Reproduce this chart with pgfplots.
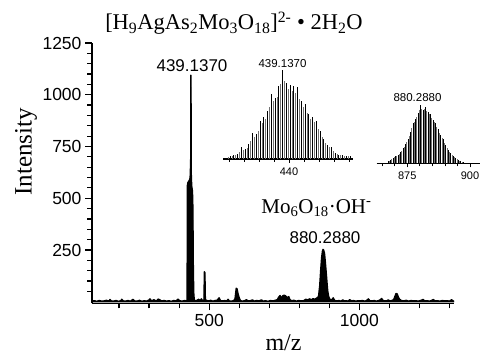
\documentclass[border=0pt]{standalone}
\usepackage{fontspec}
\setmainfont{Liberation Serif}
\newfontfamily\arial{Liberation Sans}
\usepackage{pgfplots}
\pgfplotsset{compat=1.18}
\usepackage{pgfplotstable}

\pgfplotstableread{
x y
110 3
118 5
126 2
134 6
142 3
150 4
158 7
166 3
170 11
174 4
182 3
190 6
198 2
206 5
209 12
214 4
222 3
230 6
238 2
246 12
252 4
260 3
268 7
276 2
284 5
292 3
300 9
303 14
308 4
316 10
324 3
330 13
336 9
342 4
350 6
358 3
366 5
374 2
382 6
390 4
396 13
402 5
410 3
418 6
424 4
426.5 8
427.2 560
429 575
431 580
433 585
435 590
436.5 600
437.5 640
438.6 700
439.137 1095
439.8 1000
440.5 620
442 560
444 540
445.5 500
446.5 350
447.5 150
449 40
450.5 10
454 4
458 6
465 12
470 5
474 14
478 6
482.5 8
484 145
486 140
487.5 10
492 6
498 4
505 7
512 3
520 6
527 8
533 19
538 5
545 4
552 6
558 3
563 12
567 4
575 3
582 6
586 15
588 40
590 65
593 62
596 40
600 20
604 6
610 3
618 5
624 10
630 4
637 5
644 9
650 3
658 6
666 4
674 9
680 3
688 5
696 2
704 6
712 4
720 7
727 10
731 22
736 30
740 18
745 29
750 32
755 28
760 20
765 25
769 10
775 5
782 7
790 3
798 6
806 4
814 5
822 12
828 9
834 14
840 10
846 15
852 12
858 18
864 25
868 80
871 150
874 210
877 245
879 253
881 250
884 235
887 190
889 155
891 120
893 82
895 50
898 25
902 12
907 8
913 19
918 6
925 4
932 6
938 3
945 9
950 4
956 5
962 3
968 10
974 4
980 6
988 3
995 5
1002 4
1010 6
1018 3
1024 6
1030 14
1035 5
1042 4
1050 6
1056 3
1062 5
1068 8
1074 16
1079 6
1086 4
1092 5
1096 9
1102 4
1108 6
1114 10
1118 25
1122 40
1126 38
1130 22
1134 12
1140 6
1148 4
1156 7
1164 3
1172 6
1180 4
1188 5
1196 3
1204 6
1212 11
1218 4
1226 5
1234 3
1240 6
1246 11
1252 4
1260 5
1268 3
1276 6
1284 4
1292 5
1300 3
1307 10
1312 4
1315 3
}\mainspec

\pgfplotstableread{
x y
432.137 3
432.637 4
433.137 5
433.637 12
434.137 10
434.637 15
435.137 26
435.637 25
436.137 38
436.637 42
437.137 48
437.637 65
438.137 61
438.637 73
439.137 89
439.637 76
440.137 74
440.637 73
441.137 72
441.637 58
442.137 55
442.637 45
443.137 42
443.637 38
444.137 28
444.637 20
445.137 14
445.637 12
446.137 6
446.637 4
447.137 4
447.637 3
448.137 3
}\insetAblack

\pgfplotstableread{
x y
431.887 2
432.387 3
432.887 4
433.387 7
433.887 9
434.387 11
434.887 18
435.387 22
435.887 28
436.387 36
436.887 40
437.387 52
437.887 58
438.387 62
438.887 75
439.387 78
439.887 70
440.387 68
440.887 66
441.387 60
441.887 52
442.387 46
442.887 40
443.387 37
443.887 30
444.387 22
444.887 16
445.387 12
445.887 8
446.387 5
446.887 4
447.387 3
447.887 3
}\insetAgray

\pgfplotstableread{
x y
867.288 2
868.288 3
869.288 5
870.288 7
871.288 8
872.288 11
873.288 15
874.288 19
875.288 24
876.288 31
877.288 40
878.288 44
879.288 50
880.288 58
881.288 53
882.288 56
883.288 51
884.288 49
885.288 43
886.288 40
887.288 34
888.288 28
889.288 24
890.288 18
891.288 13
892.288 10
893.288 7
894.288 5
895.288 3
896.288 2
897.288 1.5
}\insetBblack

\pgfplotstableread{
x y
867.788 2
868.788 4
869.788 6
870.788 7
871.788 9
872.788 12
873.788 16
874.788 21
875.788 27
876.788 35
877.788 41
878.788 46
879.788 53
880.788 54
881.788 54
882.788 52
883.788 49
884.788 45
885.788 41
886.788 36
887.788 30
888.788 25
889.788 20
890.788 15
891.788 11
892.788 8
893.788 6
894.788 4
895.788 2.5
896.788 1.5
}\insetBgray

\begin{document}
\begin{tikzpicture}[x=1pt,y=1pt]
\begin{axis}[
  at={(92pt,51.5pt)}, anchor=south west,
  scale only axis, width=362pt, height=260.5pt,
  xmin=110, xmax=1315, ymin=-8.5, ymax=1250,
  axis lines=left, axis line style={-, line width=1.5pt},
  xtick={500,1000},
  minor xtick={200,300,400,600,700,800,900,1100,1200,1300},
  ytick={250,500,750,1000,1250},
  minor ytick={50,100,150,200,300,350,400,450,550,600,650,700,800,850,900,950,1050,1100,1150,1200},
  tick align=outside,
  major tick length=7pt, minor tick length=5pt,
  tick style={line width=1.2pt, black},
  ticklabel style={font=\arial\fontsize{17.5}{20}\selectfont},
  /pgf/number format/assume math mode=true,
  /pgf/number format/1000 sep={},
]
\addplot[black, fill=black, line width=1.3pt, line join=round] table {\mainspec} \closedcycle;
\end{axis}

\begin{axis}[
  at={(223.3pt,196pt)}, anchor=south west,
  scale only axis, width=130pt, height=100pt,
  xmin=431.24, xmax=448.57, ymin=0, ymax=100,
  axis x line=bottom, axis y line=none, axis line style={-, line width=1.5pt},
  xtick={440}, minor xtick={432,434,436,438,442,444,446,448},
  tick align=outside, major tick length=4pt, minor tick length=3pt,
  tick style={line width=0.8pt, black},
  ticklabel style={font=\arial\fontsize{11}{12}\selectfont, yshift=-1pt},
  /pgf/number format/assume math mode=true,
  clip=false,
]
\addplot[ycomb, black!55, line width=0.8pt] table {\insetAgray};
\addplot[ycomb, black, line width=1pt] table {\insetAblack};
\end{axis}

\begin{axis}[
  at={(376.7pt,191.7pt)}, anchor=south west,
  scale only axis, width=103.3pt, height=100pt,
  xmin=862.8, xmax=904, ymin=0, ymax=100,
  axis x line=bottom, axis y line=none, axis line style={-, line width=1.5pt},
  xtick={875,900}, minor xtick={865,870,880,885,890,895},
  tick align=outside, major tick length=4pt, minor tick length=3pt,
  tick style={line width=0.8pt, black},
  ticklabel style={font=\arial\fontsize{11}{12}\selectfont, yshift=-1pt},
  /pgf/number format/assume math mode=true,
  clip=false,
]
\addplot[ycomb, black!55, line width=0.7pt] table {\insetBgray};
\addplot[ycomb, black, line width=0.9pt] table {\insetBblack};
\end{axis}

\node[font=\fontsize{22.5}{26}\selectfont, anchor=base] at (234,325) {[H\textsubscript{9}AgAs\textsubscript{2}Mo\textsubscript{3}O\textsubscript{18}]\textsuperscript{2-} • 2H\textsubscript{2}O};
\node[font=\fontsize{21}{24}\selectfont, anchor=base] at (316.5,141.7) {Mo\textsubscript{6}O\textsubscript{18}·OH\textsuperscript{-}};
\node[font=\arial\fontsize{17}{20}\selectfont, anchor=base] at (192,283.5) {439.1370};
\node[font=\arial\fontsize{17}{20}\selectfont, anchor=base] at (325,111) {880.2880};
\node[font=\arial\fontsize{11.5}{13}\selectfont, anchor=base] at (282.5,287) {439.1370};
\node[font=\arial\fontsize{11.5}{13}\selectfont, anchor=base] at (417.5,253) {880.2880};
\node[font=\fontsize{25}{28}\selectfont, rotate=90, anchor=base] at (31.7,203.3) {Intensity};
\node[font=\fontsize{24}{27}\selectfont, anchor=base] at (283.5,4) {m/z};

\pgfresetboundingbox
\path (0,0) rectangle (480,355);
\end{tikzpicture}
\end{document}
